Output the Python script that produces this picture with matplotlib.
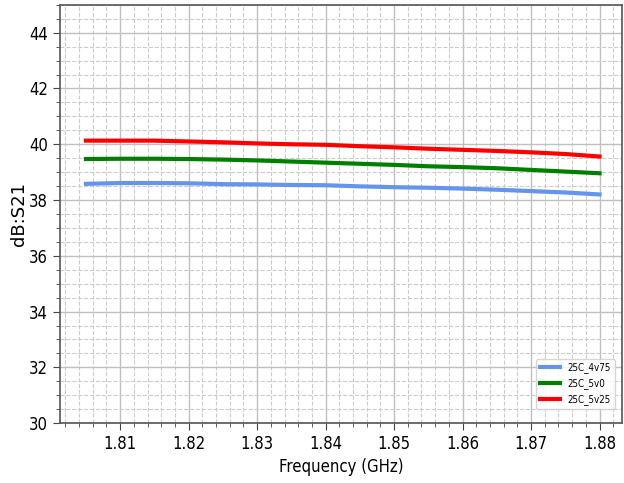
import matplotlib.pyplot as plt
from matplotlib.ticker import MultipleLocator

plt.rcParams['font.stretch'] = 'condensed'

# S21 gain vs frequency for three supply voltages at 25C
freq_ghz = [1.805, 1.810, 1.815, 1.820, 1.825, 1.830, 1.835, 1.840,
            1.845, 1.850, 1.855, 1.860, 1.865, 1.870, 1.875, 1.880]
s21_4v75 = [38.58, 38.61, 38.61, 38.60, 38.57, 38.56, 38.54, 38.53,
            38.49, 38.46, 38.44, 38.41, 38.37, 38.32, 38.27, 38.20]
s21_5v0 = [39.47, 39.48, 39.48, 39.47, 39.45, 39.42, 39.38, 39.34,
           39.30, 39.26, 39.21, 39.18, 39.14, 39.08, 39.02, 38.96]
s21_5v25 = [40.13, 40.13, 40.13, 40.10, 40.07, 40.03, 40.00, 39.98,
            39.93, 39.89, 39.84, 39.80, 39.76, 39.71, 39.65, 39.56]
labels = ['25C_4v75', '25C_5v0', '25C_5v25']
colors = ['cornflowerblue', 'green', 'red']

fig = plt.figure(figsize=(6.24, 4.83), dpi=100)
ax = fig.add_axes([0.096, 0.124, 0.901, 0.866])

for ys, lab, c in zip([s21_4v75, s21_5v0, s21_5v25], labels, colors):
    ax.plot(freq_ghz, ys, color=c, lw=3, label=lab)

ax.set_xlim(1.8012, 1.8833)
ax.set_ylim(30, 45)
ax.xaxis.set_major_locator(MultipleLocator(0.01))
ax.xaxis.set_minor_locator(MultipleLocator(0.002))
ax.yaxis.set_minor_locator(MultipleLocator(0.5))
ax.set_yticks([30, 32, 34, 36, 38, 40, 42, 44])

ax.grid(which='major', color='#c0c0c0', lw=1.0, ls='-')
ax.grid(which='minor', color='#cccccc', lw=0.8, ls='--')
ax.set_axisbelow(True)

ax.tick_params(which='major', labelsize=12, length=5, color='#444444')
ax.tick_params(which='minor', length=3, color='#444444')
for s in ax.spines.values():
    s.set_color('#555555')
    s.set_linewidth(1.2)

ax.set_xlabel('Frequency (GHz)', fontsize=12)
ax.set_ylabel('dB:S21', fontsize=13, fontfamily='DejaVu Sans',
              fontstretch='normal', labelpad=1)

ax.legend(loc='lower right', fontsize=7, handlelength=2.0, borderaxespad=0.6,
          bbox_to_anchor=(0.997, 0.02))

fig.savefig('out.png', dpi=100)
